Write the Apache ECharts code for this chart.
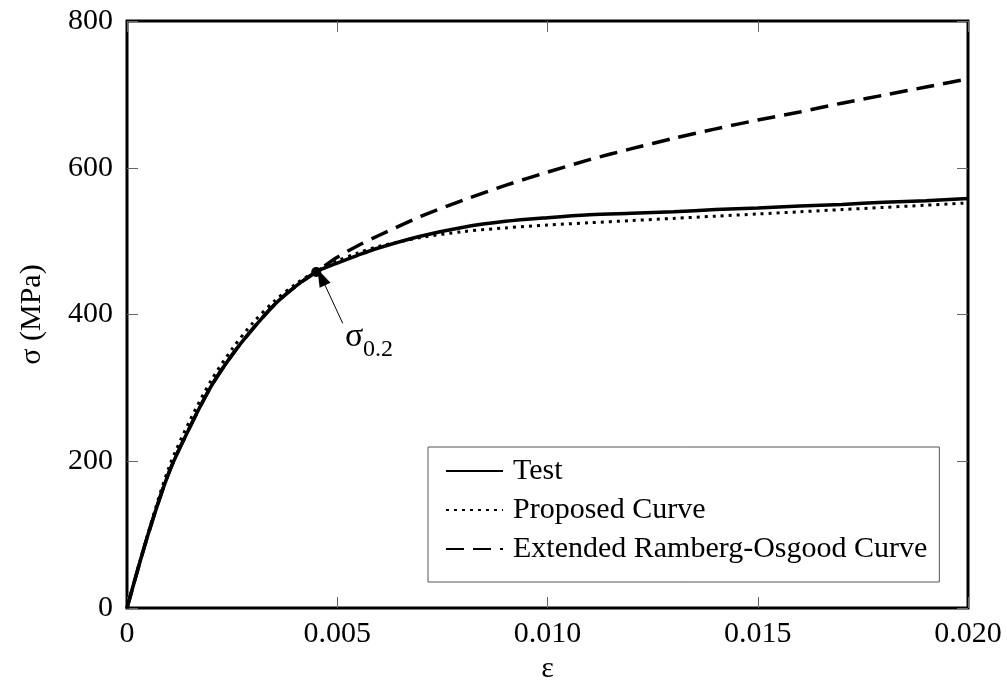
<!DOCTYPE html>
<html>
<head>
<meta charset="utf-8">
<script src="https://cdn.jsdelivr.net/npm/echarts@6/dist/echarts.min.js"></script>
<style>html,body{margin:0;padding:0;background:#fff}#c{width:1007px;height:681px}</style>
</head>
<body>
<div id="c"></div>
<script>
const strain = [0, 0.0005, 0.001, 0.0015, 0.002, 0.0025, 0.003, 0.0035, 0.004, 0.0045, 0.005, 0.0055, 0.006, 0.007, 0.008, 0.009, 0.010, 0.011, 0.012, 0.013, 0.014, 0.015, 0.016, 0.017, 0.018, 0.019, 0.020];
const testStress = [0, 100, 185, 247, 302, 345, 381, 413, 438, 458, 470, 481, 491, 507, 519, 527, 532, 536, 538, 540, 543, 545, 548, 550, 553, 555, 558];
const proposedStress = [0, 102, 192, 256, 310, 353, 389, 418, 441, 459, 473, 484, 493, 505, 513, 518, 522, 525, 528, 531, 534, 537, 540, 543, 546, 549, 552];
const extendedROStress = [0, 100, 185, 247, 302, 345, 381, 413, 438, 458, 478, 494, 508, 534, 556, 576, 594, 611, 626, 640, 653, 665, 676, 688, 699, 710, 721];
const yieldPoint = [0.0045, 458];
const arrowTail = [0.00513, 388];
const arrowTip = [0.00462, 451];
const labelSigmaPos = [0.0054, 369];
const labelSubPos = [0.00597, 352];
const xTicks = [0, 0.005, 0.010, 0.015, 0.020];
const yTicks = [0, 200, 400, 600, 800];
const seriesNames = ['Test', 'Proposed Curve', 'Extended Ramberg-Osgood Curve'];

const FONT = "'Liberation Serif','Times New Roman',serif";
const FS = 30;
const pairs = ys => strain.map((x, i) => [x, ys[i]]);

const chart = echarts.init(document.getElementById('c'), null, {renderer: 'canvas'});
const mkTick = () => ({show: true, inside: true, length: 11, lineStyle: {color: '#666', width: 1}});
const mkLine = () => ({show: false, onZero: false});
const xRange = {min: xTicks[0], max: xTicks[xTicks.length - 1], interval: 0.005};
const yRange = {min: yTicks[0], max: yTicks[yTicks.length - 1], interval: 200};
chart.setOption({
  animation: false,
  backgroundColor: '#fff',
  grid: {left: 127, right: 39, top: 21, bottom: 73, containLabel: false, outerBoundsMode: 'none',
    show: true, borderColor: '#000', borderWidth: 3, backgroundColor: 'transparent'},
  xAxis: [
    Object.assign({type: 'value', position: 'bottom', splitLine: {show: false}, axisLine: mkLine(),
      axisTick: mkTick(),
      axisLabel: {color: '#000', fontFamily: FONT, fontSize: FS, margin: 11,
        formatter: v => v === 0 ? '0' : v.toFixed(3)},
      name: 'ε', nameLocation: 'middle', nameGap: 43,
      nameTextStyle: {color: '#000', fontFamily: FONT, fontSize: FS}
    }, xRange),
    Object.assign({type: 'value', position: 'top', splitLine: {show: false}, axisLine: mkLine(),
      axisTick: mkTick(), axisLabel: {show: false}
    }, xRange)
  ],
  yAxis: [
    Object.assign({type: 'value', position: 'left', splitLine: {show: false}, axisLine: mkLine(),
      axisTick: mkTick(),
      axisLabel: {color: '#000', fontFamily: FONT, fontSize: FS, margin: 14},
      name: 'σ (MPa)', nameLocation: 'middle', nameGap: 80,
      nameTextStyle: {color: '#000', fontFamily: FONT, fontSize: FS}
    }, yRange),
    Object.assign({type: 'value', position: 'right', splitLine: {show: false}, axisLine: mkLine(),
      axisTick: mkTick(), axisLabel: {show: false}
    }, yRange)
  ],
  legend: {
    data: seriesNames,
    orient: 'vertical', left: 428, top: 447,
    backgroundColor: '#fff', borderColor: '#555', borderWidth: 1,
    padding: [9, 12, 18, 17],
    itemWidth: 57, itemHeight: 14, itemGap: 9,
    itemStyle: {color: 'rgba(0,0,0,0)', borderWidth: 0},
    textStyle: {color: '#000', fontFamily: FONT, fontSize: FS, padding: [0, 0, 0, 5]}
  },
  series: [
    {
      name: seriesNames[2], type: 'line', data: pairs(extendedROStress), smooth: 0.3,
      showSymbol: false, symbol: 'none', z: 2, itemStyle: {color: '#000'},
      lineStyle: {color: '#000', width: 3.5, type: [18, 9], cap: 'butt'}
    },
    {
      name: seriesNames[1], type: 'line', data: pairs(proposedStress), smooth: 0.3,
      showSymbol: false, symbol: 'none', z: 3, itemStyle: {color: '#000'},
      lineStyle: {color: '#000', width: 3, type: [3, 5], cap: 'butt'}
    },
    {
      name: seriesNames[0], type: 'line', data: pairs(testStress), smooth: 0.3,
      showSymbol: false, symbol: 'none', z: 4, itemStyle: {color: '#000'},
      lineStyle: {color: '#000', width: 3.5}
    },
    {
      name: 'frame', type: 'line', xAxisIndex: 1, yAxisIndex: 1, data: [], silent: true,
      showSymbol: false, symbol: 'none', lineStyle: {opacity: 0}
    },
    {
      name: 'yield', type: 'scatter', data: [yieldPoint], symbolSize: 10, z: 10,
      itemStyle: {color: '#000', opacity: 1},
      markLine: {
        silent: true, symbol: ['none', 'triangle'], symbolSize: [12, 18],
        lineStyle: {color: '#000', width: 1, type: 'solid'}, label: {show: false},
        data: [[{coord: arrowTail}, {coord: arrowTip}]]
      },
      markPoint: {
        silent: true, symbol: 'circle', symbolSize: 1, itemStyle: {color: 'rgba(0,0,0,0)'},
        data: [
          {coord: labelSigmaPos, label: {show: true, position: 'inside', formatter: 'σ', color: '#000', fontFamily: FONT, fontSize: 34}},
          {coord: labelSubPos, label: {show: true, position: 'inside', formatter: '0.2', color: '#000', fontFamily: FONT, fontSize: 24}}
        ]
      }
    }
  ]
});
</script>
</body>
</html>
